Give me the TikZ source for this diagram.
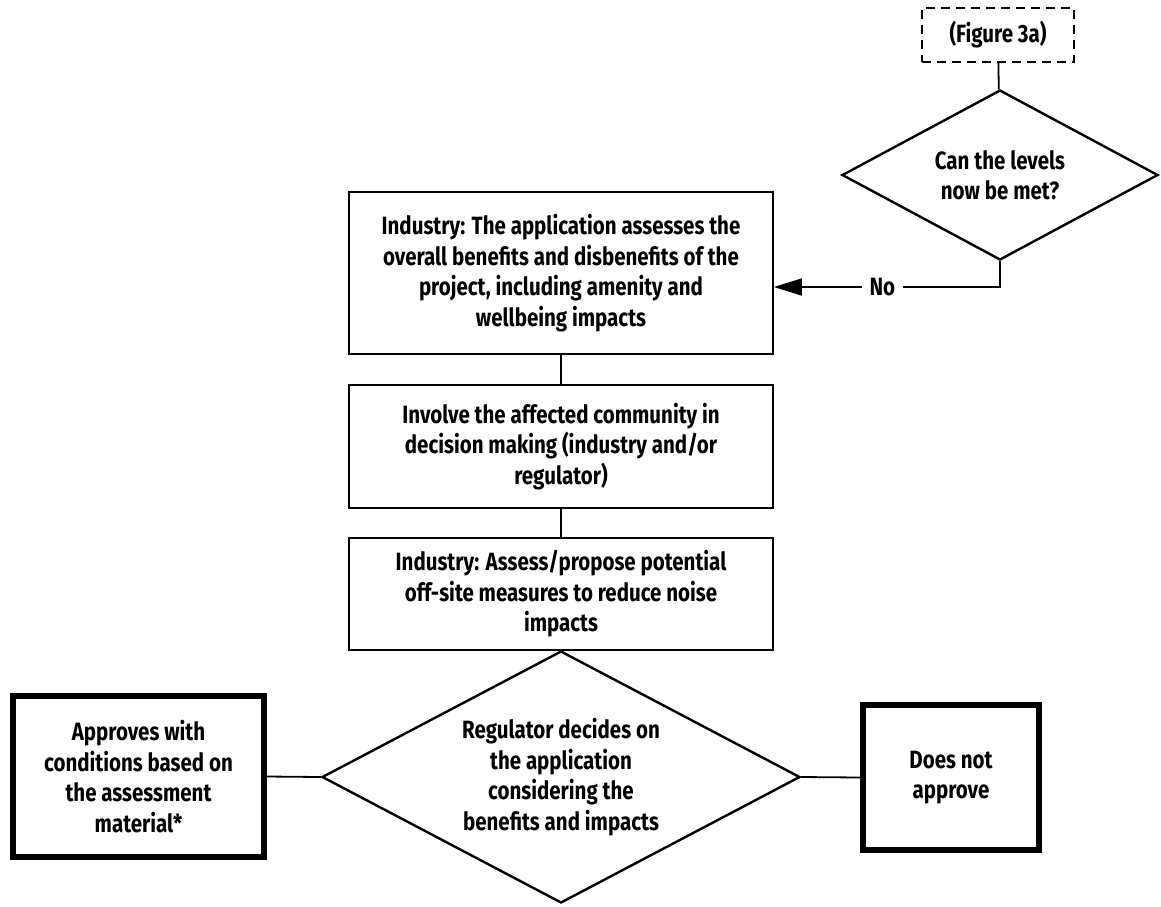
\documentclass[tikz,border=0pt]{standalone}
\usepackage{fontspec}
\setmainfont{Fira Sans}[FakeStretch=0.82, BoldFont={Fira Sans Bold}]
\usetikzlibrary{shapes.geometric,arrows.meta}
\begin{document}
\begin{tikzpicture}[x=1pt,y=-1pt,
  every node/.style={font=\fontsize{25}{30.5}\selectfont\bfseries, align=center, inner sep=0pt},
  thinbox/.style={draw, line width=1.8pt, minimum width=424pt},
  thickbox/.style={draw, line width=6pt},
  dbox/.style={draw, dashed, dash pattern=on 9pt off 6pt, line width=1.6pt, minimum width=152pt, minimum height=54pt},
  decision/.style={draw, diamond, line width=2.4pt, aspect=1.9},
  conn/.style={line width=1.8pt}]
\useasboundingbox (0,0) rectangle (1161,906);
\node[dbox] (fig) at (998,35) {(Figure 3a)};
\node[decision, minimum width=316pt, minimum height=170pt] (d1) at (1000,175) {Can the levels\\now be met?};
\node[thinbox, minimum height=162pt] (b1) at (561,273) {Industry: The application assesses the\\overall benefits and disbenefits of the\\project, including amenity and\\wellbeing impacts};
\node[thinbox, minimum height=123pt] (b2) at (561,446.5) {Involve the affected community in\\decision making (industry and/or\\regulator)};
\node[thinbox, minimum height=112pt] (b3) at (561,594) {Industry: Assess/propose potential\\off-site measures to reduce noise\\impacts};
\node[decision, minimum width=478pt, minimum height=252pt] (d2) at (561,777) {Regulator decides on\\the application\\considering the\\benefits and impacts};
\node[thickbox, minimum width=251pt, minimum height=161pt] (yes) at (138.5,776.5) {Approves with\\conditions based on\\the assessment\\material*};
\node[thickbox, minimum width=176pt, minimum height=145pt] (no) at (951,777.5) {Does not\\approve};
\coordinate (c1) at (1000,287);
\draw[conn] (fig) -- (d1);
\draw[conn, -{Triangle[length=28pt,width=17pt]}] (d1.south) -- (c1) -- node[fill=white, inner xsep=8pt, inner ysep=2pt, pos=0.52] {No} (b1.east |- c1);
\draw[conn] (b1) -- (b2);
\draw[conn] (b2) -- (b3);
\draw[conn] (d2.west) -- (yes.east);
\draw[conn] (d2.east) -- (no.west);
\end{tikzpicture}
\end{document}
